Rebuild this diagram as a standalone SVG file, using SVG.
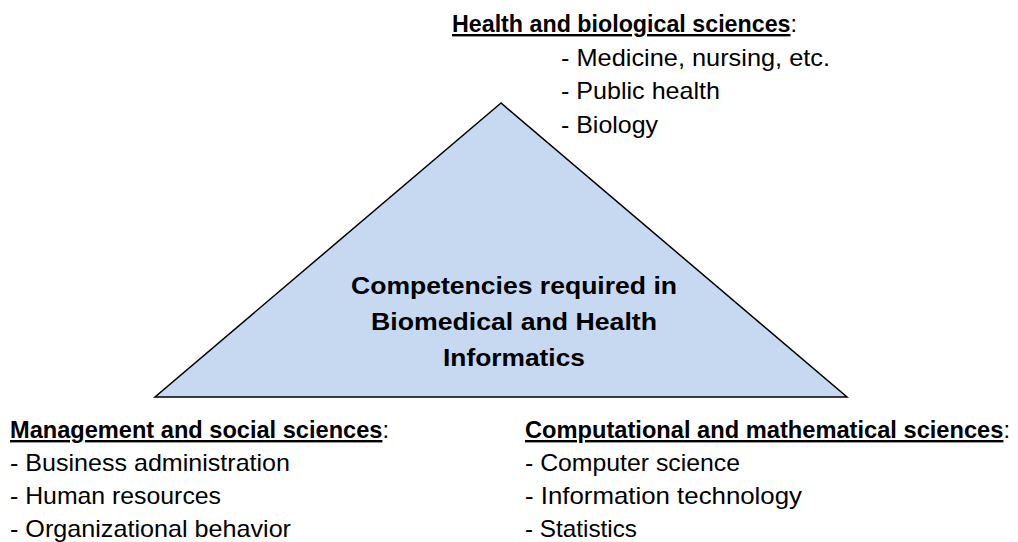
<svg xmlns="http://www.w3.org/2000/svg" width="1018" height="542" viewBox="0 0 1018 542">
<style>
text{font-family:"Liberation Sans",Arial,sans-serif;font-size:24px;fill:#000}
.h{font-weight:bold;text-decoration:underline}
.c{font-weight:bold;text-anchor:middle}
</style>
<rect width="1018" height="542" fill="#fff"/>
<g id="triangle">
<polygon points="501,103 155,397 847,397" fill="#C6D9F1" stroke="#000" stroke-width="1.5"/>
<text class="c" x="514" y="294" textLength="326" lengthAdjust="spacingAndGlyphs">Competencies required in</text>
<text class="c" x="514" y="330" textLength="286" lengthAdjust="spacingAndGlyphs">Biomedical and Health</text>
<text class="c" x="514" y="366" textLength="142" lengthAdjust="spacingAndGlyphs">Informatics</text>
</g>
<g id="health">
<text x="452" y="32" textLength="345" lengthAdjust="spacingAndGlyphs"><tspan class="h">Health and biological sciences</tspan>:</text>
<text x="561" y="66" textLength="269" lengthAdjust="spacingAndGlyphs">- Medicine, nursing, etc.</text>
<text x="561" y="99" textLength="159" lengthAdjust="spacingAndGlyphs">- Public health</text>
<text x="561" y="133" textLength="97" lengthAdjust="spacingAndGlyphs">- Biology</text>
</g>
<g id="management">
<text x="10" y="438" textLength="379" lengthAdjust="spacingAndGlyphs"><tspan class="h">Management and social sciences</tspan>:</text>
<text x="10" y="471" textLength="280" lengthAdjust="spacingAndGlyphs">- Business administration</text>
<text x="10" y="504" textLength="211" lengthAdjust="spacingAndGlyphs">- Human resources</text>
<text x="10" y="537" textLength="281" lengthAdjust="spacingAndGlyphs">- Organizational behavior</text>
</g>
<g id="computational">
<text x="525" y="438" textLength="485" lengthAdjust="spacingAndGlyphs"><tspan class="h">Computational and mathematical sciences</tspan>:</text>
<text x="525" y="471" textLength="215" lengthAdjust="spacingAndGlyphs">- Computer science</text>
<text x="525" y="504" textLength="277" lengthAdjust="spacingAndGlyphs">- Information technology</text>
<text x="525" y="537" textLength="112" lengthAdjust="spacingAndGlyphs">- Statistics</text>
</g>
<g id="connectors"></g>
</svg>
